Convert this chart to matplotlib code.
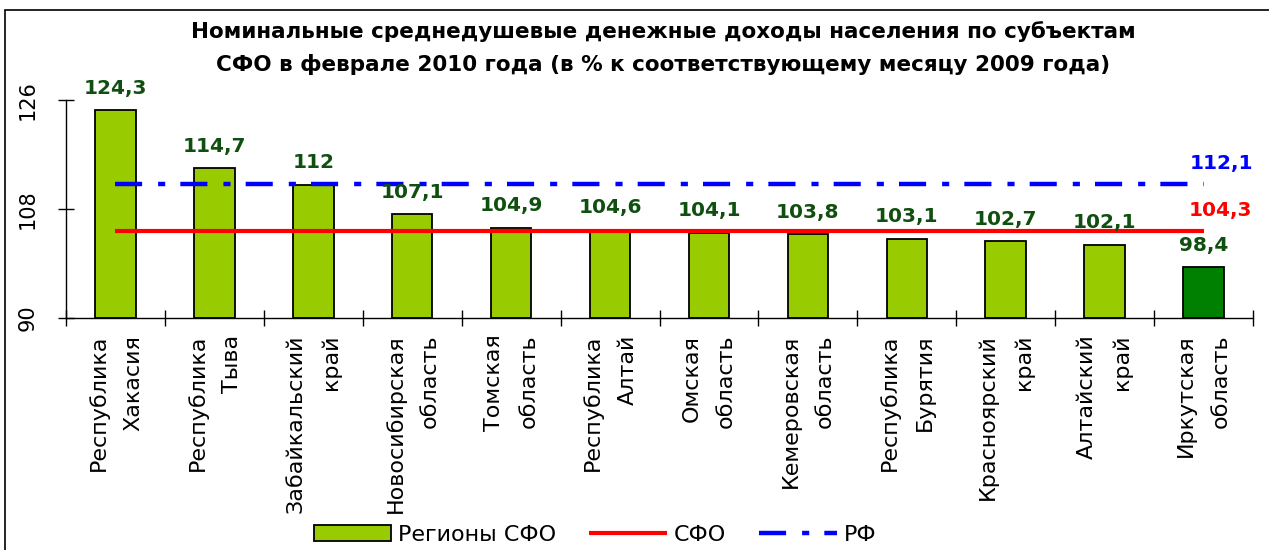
import numpy as np
import matplotlib.pyplot as plt
from matplotlib.patches import Rectangle

regions = ['Республика\nХакасия', 'Республика\nТыва', 'Забайкальский\nкрай',
           'Новосибирская\nобласть', 'Томская\nобласть', 'Республика\nАлтай',
           'Омская\nобласть', 'Кемеровская\nобласть', 'Республика\nБурятия',
           'Красноярский\nкрай', 'Алтайский\nкрай', 'Иркутская\nобласть']
values = [124.3, 114.7, 112, 107.1, 104.9, 104.6, 104.1, 103.8, 103.1, 102.7, 102.1, 98.4]
sfo_value = 104.3
rf_value = 112.1
y_ticks = [90, 108, 126]

title = ('Номинальные среднедушевые денежные доходы населения по субъектам\n'
         'СФО в феврале 2010 года (в % к соответствующему месяцу 2009 года)')


def fmt(v):
    return ('%g' % v).replace('.', ',')


def main():
    W, H = 1269, 550
    fig = plt.figure(figsize=(W / 100, H / 100), dpi=100)
    plt.rcParams['font.family'] = ['DejaVu Sans']

    ax = fig.add_axes([66 / W, 1 - 318 / H, (1253 - 66) / W, (318 - 100) / H])

    x = np.arange(len(regions))
    colors = ['#99CC00'] * (len(values) - 1) + ['#008000']
    vals = np.array(values)
    bars = ax.bar(x, vals - 90, bottom=90, width=0.41, color=colors,
                  edgecolor='black', linewidth=1.3, label='Регионы СФО', zorder=2)

    sfo_line, = ax.plot(x, np.full(len(x), sfo_value), color='#FF0000', lw=3,
                        solid_capstyle='butt', label='СФО', zorder=3)
    rf_line, = ax.plot(x, np.full(len(x), rf_value), color='#0000FF', lw=3.2,
                       dashes=(6.1, 3.6, 1.6, 3.4), label='РФ', zorder=3)

    for xi, v in zip(x, values):
        ax.annotate(fmt(v), (xi, v), xytext=(0, 9), textcoords='offset points',
                    ha='center', va='bottom', fontsize=14.5, fontweight='bold',
                    color='#0F4F0F', zorder=4)
    ax.annotate(fmt(rf_value), (x[-1], rf_value), xytext=(13, 8), textcoords='offset points',
                ha='center', va='bottom', fontsize=14.5, fontweight='bold', color='#0000FF')
    ax.annotate(fmt(sfo_value), (x[-1], sfo_value), xytext=(12, 8), textcoords='offset points',
                ha='center', va='bottom', fontsize=14.5, fontweight='bold', color='#FF0000')

    ax.set_xlim(-0.5, len(x) - 0.5)
    ax.set_ylim(90, 126)
    ax.set_yticks(y_ticks)
    ax.tick_params(axis='y', direction='inout', length=11, width=1, pad=15, labelsize=15)
    plt.setp(ax.get_yticklabels(), rotation=90, va='center')

    ax.set_xticks(x)
    ax.set_xticklabels(regions, rotation=90, ha='center', va='top',
                       multialignment='right', fontsize=16, linespacing=1.9)
    ax.set_xticks(np.arange(-0.5, len(x), 1), minor=True)
    ax.tick_params(axis='x', which='major', length=0, pad=12)
    ax.tick_params(axis='x', which='minor', direction='inout', length=11, width=1)

    for side in ['top', 'right']:
        ax.spines[side].set_visible(False)
    ax.spines['left'].set_linewidth(1)
    ax.spines['bottom'].set_linewidth(1)

    fig.text(663 / W, 1 - 48 / H, title, ha='center', va='center', fontsize=15.5,
             fontweight='bold', linespacing=1.75)

    fig.legend(handles=[bars, sfo_line, rf_line], loc='center',
               bbox_to_anchor=(595 / W, 15 / H), ncol=3, frameon=False,
               fontsize=16, handlelength=3.5, handleheight=0.7,
               handletextpad=0.3, columnspacing=1.5, borderpad=0)

    fig.patches.append(Rectangle((5 / W, -0.1), 1.2, 1 - 10 / H + 0.1,
                                 transform=fig.transFigure, fill=False,
                                 ec='black', lw=1.2))

    fig.savefig('out.png', dpi=100)


if __name__ == '__main__':
    main()
